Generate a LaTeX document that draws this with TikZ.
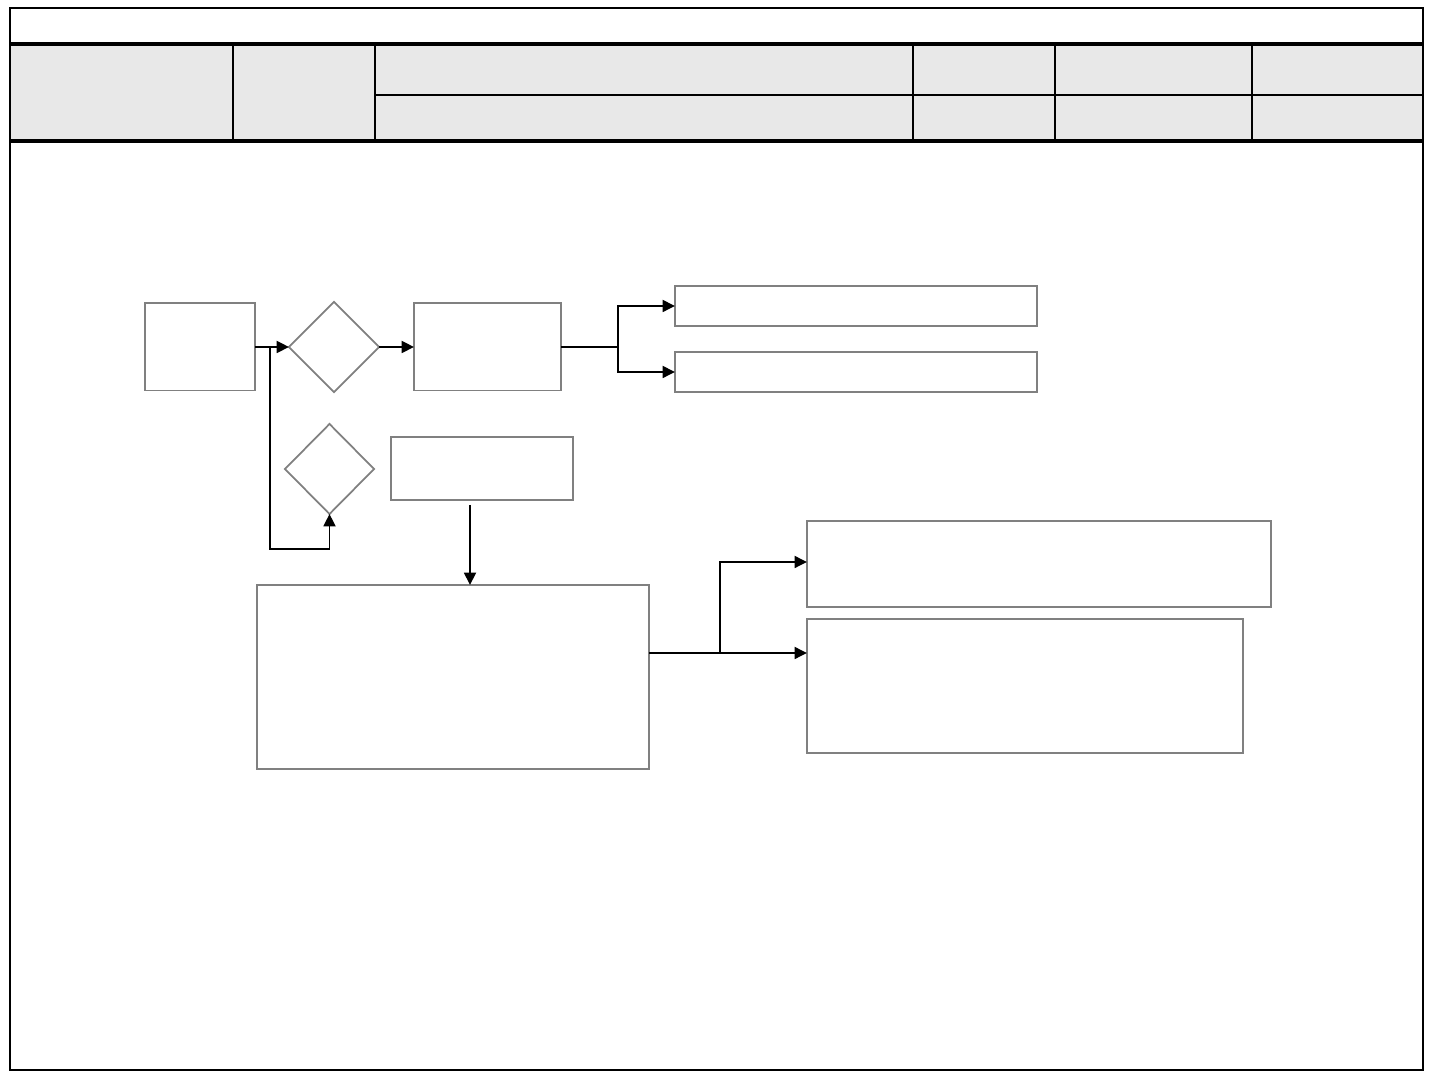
\documentclass[tikz,border=0pt]{standalone}
\usepackage{xcolor}
\usepackage{tikz}
\usetikzlibrary{shapes.geometric,arrows.meta}
\definecolor{hdrgray}{HTML}{E8E8E8}
\definecolor{boxgray}{HTML}{808080}

\tikzset{
  procbox/.style={draw=boxgray,line width=0.55pt,rectangle,inner sep=0pt,outer sep=0pt},
  decbox/.style={draw=boxgray,line width=0.5pt,diamond,aspect=1,inner sep=0pt,outer sep=0pt},
  link/.style={draw=black,line width=0.55pt},
  flow/.style={link,-{Triangle[length=3.5pt,width=3.4pt]}}
}

\begin{document}
\begin{tikzpicture}[x=0.01cm,y=-0.01cm]
  \useasboundingbox (0,0) rectangle (1440,1080);
  % header table
  \fill[hdrgray] (10,44) rectangle (1423,141);
  \draw[line width=0.6pt] (375,95) -- (1423,95);
  \foreach \xc in {233,375,913,1055,1252}
    \draw[line width=0.6pt] (\xc,44) -- (\xc,141);
  \draw[line width=1pt] (10,44) -- (1423,44);
  \draw[line width=1pt] (10,141) -- (1423,141);
  \draw[line width=0.7pt] (10,8) rectangle (1423,1070);

  % flow chart
  \node[procbox,minimum width=1.10cm,minimum height=0.87cm] (start) at (200,347) {};
  \node[decbox,minimum width=0.90cm,minimum height=0.90cm] (dec1) at (334,347) {};
  \node[procbox,minimum width=1.47cm,minimum height=0.87cm] (proc) at (487.5,347) {};
  \node[procbox,minimum width=3.62cm,minimum height=0.40cm] (out1) at (856,306) {};
  \node[procbox,minimum width=3.62cm,minimum height=0.40cm] (out2) at (856,372) {};
  \node[decbox,minimum width=0.89cm,minimum height=0.90cm] (dec2) at (329.5,469) {};
  \node[procbox,minimum width=1.82cm,minimum height=0.63cm] (note) at (482,468.5) {};
  \node[procbox,minimum width=3.92cm,minimum height=1.84cm] (detail) at (453,677) {};
  \node[procbox,minimum width=4.64cm,minimum height=0.86cm] (res1) at (1039,564) {};
  \node[procbox,minimum width=4.36cm,minimum height=1.34cm] (res2) at (1025,686) {};

  \coordinate (split1) at (270,347);
  \coordinate (loop) at (329.5,549);
  \coordinate (split2) at (618,347);
  \coordinate (drop) at (470,505);
  \coordinate (split3) at (720,653);

  \draw[flow] (start.east) -- (dec1.west);
  \draw[flow] (split1) |- (loop) -- (dec2.south);
  \draw[flow] (dec1.east) -- (proc.west);
  \draw[link] (proc.east) -- (split2);
  \draw[flow] (split2) |- (out1.west);
  \draw[flow] (split2) |- (out2.west);
  \draw[flow] (drop) -- (drop |- detail.north);
  \draw[link] (split3 -| detail.east) -- (split3);
  \draw[flow] (split3) |- ([yshift=0.02cm]res1.west);
  \draw[flow] (split3) -- (split3 -| res2.west);
\end{tikzpicture}
\end{document}
